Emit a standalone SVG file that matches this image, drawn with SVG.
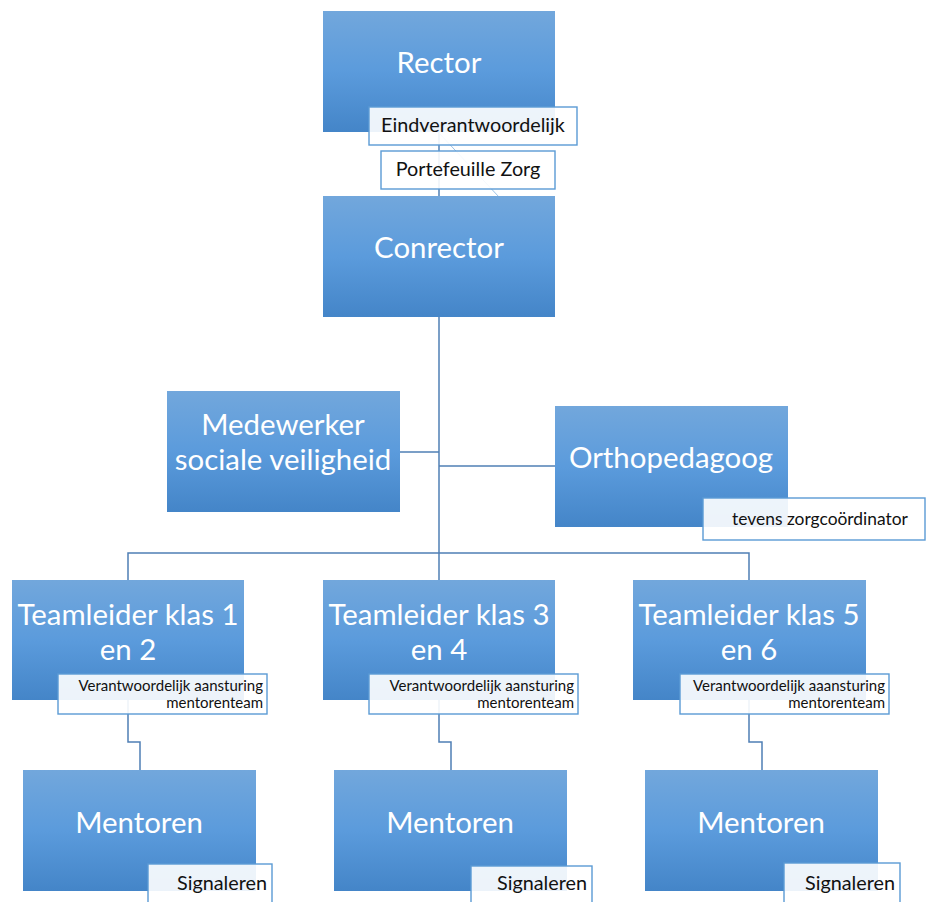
<svg xmlns="http://www.w3.org/2000/svg" width="926" height="902" viewBox="0 0 926 902">
<defs>
<linearGradient id="g" x1="0" y1="0" x2="0" y2="1">
<stop offset="0" stop-color="#72a7dc"/>
<stop offset="0.5" stop-color="#5b9bdc"/>
<stop offset="1" stop-color="#4485c8"/>
</linearGradient>
<style>
.box{fill:url(#g);}
.lbl{fill:#ffffff;fill-opacity:0.9;stroke:#5b9bd5;stroke-width:1.4;}
.big{font-family:Lato,"Open Sans","Liberation Sans",sans-serif;font-size:29.4px;fill:#ffffff;text-anchor:middle;}
.sm{font-family:Lato,"Open Sans","Liberation Sans",sans-serif;font-size:19.8px;fill:#111111;text-anchor:middle;}
.xs{font-family:Lato,"Open Sans","Liberation Sans",sans-serif;font-size:15px;fill:#111111;text-anchor:end;}
.con{fill:none;stroke:#4f7fb5;stroke-width:1.5;}
</style>
</defs>
<rect width="926" height="902" fill="#ffffff"/>
<g id="connectors">
<line class="con" x1="439" y1="131" x2="439" y2="196"/>
<line x1="439" y1="133" x2="499" y2="197" stroke="#9cc3e8" stroke-width="1"/>
<polyline class="con" points="439,317 439,580"/>
<polyline class="con" points="400,452 439,452"/>
<polyline class="con" points="439,466 555,466"/>
<polyline class="con" points="128,580 128,553 749,553 749,580"/>
<polyline class="con" points="128,700 128,742 140,742 140,770"/>
<polyline class="con" points="439,700 439,742 451,742 451,770"/>
<polyline class="con" points="749,700 749,742 762,742 762,770"/>
</g>
<g id="rector">
<rect class="box" x="323" y="11" width="232" height="121"/>
<text class="big" x="439" y="73">Rector</text>
<rect class="lbl" x="369" y="107" width="208" height="38"/>
<text class="sm" x="473" y="132">Eindverantwoordelijk</text>
</g>
<g id="label-portefeuille">
<rect class="lbl" x="381" y="151" width="174" height="38"/>
<text class="sm" x="468" y="176">Portefeuille Zorg</text>
</g>
<g id="conrector">
<rect class="box" x="323" y="196" width="232" height="121"/>
<text class="big" x="439" y="258">Conrector</text>
</g>
<g id="medewerker">
<rect class="box" x="167" y="391" width="233" height="121"/>
<text class="big" x="283" y="435">Medewerker</text>
<text class="big" x="283" y="470">sociale veiligheid</text>
</g>
<g id="orthopedagoog">
<rect class="box" x="555" y="406" width="233" height="121"/>
<text class="big" x="671" y="468">Orthopedagoog</text>
<rect class="lbl" x="703" y="498" width="222" height="42"/>
<text class="sm" x="820" y="525" style="font-size:17.4px">tevens zorgcoördinator</text>
</g>
<g id="teamleider12">
<rect class="box" x="12" y="580" width="232" height="120"/>
<text class="big" x="128" y="625">Teamleider klas 1</text>
<text class="big" x="128" y="660">en 2</text>
<rect class="lbl" x="58" y="674" width="209" height="40"/>
<text class="xs" x="263" y="691">Verantwoordelijk aansturing</text>
<text class="xs" x="263" y="708">mentorenteam</text>
</g>
<g id="teamleider34">
<rect class="box" x="323" y="580" width="232" height="120"/>
<text class="big" x="439" y="625">Teamleider klas 3</text>
<text class="big" x="439" y="660">en 4</text>
<rect class="lbl" x="369" y="674" width="209" height="40"/>
<text class="xs" x="574" y="691">Verantwoordelijk aansturing</text>
<text class="xs" x="574" y="708">mentorenteam</text>
</g>
<g id="teamleider56">
<rect class="box" x="633" y="580" width="233" height="120"/>
<text class="big" x="749" y="625">Teamleider klas 5</text>
<text class="big" x="749" y="660">en 6</text>
<rect class="lbl" x="680" y="674" width="209" height="40"/>
<text class="xs" x="885" y="691">Verantwoordelijk aaansturing</text>
<text class="xs" x="885" y="708">mentorenteam</text>
</g>
<g id="mentoren1">
<rect class="box" x="23" y="770" width="233" height="121"/>
<text class="big" x="139" y="833">Mentoren</text>
<rect class="lbl" x="148" y="864" width="124" height="45"/>
<text class="sm" x="267" y="890" style="text-anchor:end">Signaleren</text>
</g>
<g id="mentoren2">
<rect class="box" x="334" y="770" width="233" height="121"/>
<text class="big" x="450" y="833">Mentoren</text>
<rect class="lbl" x="471" y="866" width="121" height="45"/>
<text class="sm" x="587" y="890" style="text-anchor:end">Signaleren</text>
</g>
<g id="mentoren3">
<rect class="box" x="645" y="770" width="233" height="121"/>
<text class="big" x="761" y="833">Mentoren</text>
<rect class="lbl" x="784" y="863" width="116" height="45"/>
<text class="sm" x="895" y="890" style="text-anchor:end">Signaleren</text>
</g>
</svg>
